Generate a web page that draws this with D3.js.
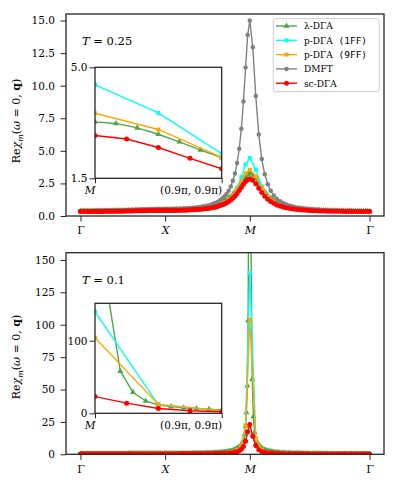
<!DOCTYPE html>
<html><head><meta charset="utf-8">
<script src="https://cdn.jsdelivr.net/npm/d3@7"></script>
<style>
body{margin:0;background:#fff}
svg{display:block}
text{fill:#000;font-family:"DejaVu Serif",serif}
</style>
</head><body>
<svg id="c" width="398" height="492"></svg>
<script>
// ---------- k-path ----------
const pathLabels = ["Γ", "X", "M", "Γ"];
const pathItalic = [false, true, true, false];

// ---------- T = 0.25 (values along Γ→X, X→M, M→Γ) ----------
const lam025_GX = [0.37,0.37,0.37,0.37,0.37,0.37,0.37,0.37,0.37,0.37,0.37,0.37,0.38,0.38,0.38,0.38,0.38,0.38,0.38,0.39,0.39,0.39,0.39,0.39,0.40,0.40,0.40,0.40,0.40,0.41,0.41,0.41,0.41,0.42,0.42,0.42,0.42,0.43,0.43,0.43,0.43,0.44,0.44,0.44,0.45,0.45,0.45,0.45,0.46,0.46,0.46,0.46,0.47,0.47,0.47,0.47,0.47,0.48,0.48,0.48,0.48];
const lam025_XM = [0.48,0.48,0.48,0.48,0.48,0.48,0.49,0.49,0.49,0.49,0.50,0.50,0.50,0.51,0.51,0.52,0.52,0.53,0.54,0.54,0.55,0.56,0.57,0.58,0.59,0.60,0.61,0.63,0.64,0.66,0.68,0.70,0.72,0.75,0.77,0.80,0.83,0.87,0.91,0.95,1.00,1.06,1.12,1.18,1.26,1.34,1.44,1.54,1.65,1.78,1.92,2.07,2.24,2.41,2.59,2.76,2.93,3.07,3.18,3.26,3.28];
const lam025_MG = [3.28,3.23,3.09,2.89,2.65,2.39,2.15,1.93,1.73,1.56,1.40,1.28,1.16,1.07,0.99,0.92,0.85,0.80,0.76,0.71,0.68,0.65,0.62,0.60,0.57,0.55,0.54,0.52,0.51,0.49,0.48,0.47,0.46,0.45,0.44,0.44,0.43,0.42,0.42,0.41,0.41,0.40,0.40,0.40,0.39,0.39,0.39,0.38,0.38,0.38,0.38,0.38,0.37,0.37,0.37,0.37,0.37,0.37,0.37,0.37,0.37];

const p1ff025_GX = [0.34,0.34,0.34,0.35,0.35,0.35,0.35,0.36,0.36,0.36,0.37,0.37,0.38,0.38,0.39,0.40,0.40,0.41,0.42,0.42,0.43];
const p1ff025_XM = [0.43,0.43,0.44,0.44,0.45,0.46,0.48,0.50,0.52,0.56,0.60,0.66,0.74,0.85,1.01,1.25,1.61,2.17,2.99,3.95,4.45];
const p1ff025_MG = [4.45,3.56,2.28,1.49,1.06,0.82,0.67,0.57,0.51,0.47,0.43,0.41,0.39,0.38,0.37,0.36,0.35,0.35,0.34,0.34,0.34];

const p9ff025_GX = [0.36,0.36,0.36,0.36,0.37,0.37,0.37,0.38,0.38,0.39,0.39,0.40,0.41,0.42,0.42,0.43,0.44,0.44,0.45,0.45,0.46];
const p9ff025_XM = [0.46,0.46,0.46,0.47,0.48,0.49,0.51,0.53,0.56,0.59,0.64,0.70,0.79,0.90,1.06,1.29,1.61,2.07,2.67,3.27,3.55];
const p9ff025_MG = [3.55,3.04,2.16,1.51,1.11,0.87,0.71,0.61,0.54,0.49,0.46,0.43,0.41,0.40,0.38,0.38,0.37,0.36,0.36,0.36,0.36];

const dmft025_GX = [0.39,0.39,0.39,0.39,0.39,0.39,0.39,0.40,0.40,0.40,0.40,0.40,0.41,0.41,0.41,0.41,0.42,0.42,0.43,0.43,0.43,0.44,0.44,0.45,0.46,0.46,0.47,0.47,0.48,0.49,0.49,0.50,0.50,0.51,0.51,0.52,0.52,0.52,0.52,0.53,0.53];
const dmft025_XM = [0.53,0.53,0.53,0.53,0.53,0.54,0.54,0.55,0.55,0.56,0.57,0.58,0.59,0.61,0.63,0.64,0.67,0.69,0.72,0.75,0.79,0.83,0.89,0.95,1.02,1.10,1.21,1.34,1.49,1.69,1.94,2.27,2.70,3.27,4.06,5.16,6.69,8.79,11.39,13.89,15.0];
const dmft025_MG = [15.0,12.94,9.20,6.26,4.37,3.20,2.44,1.93,1.58,1.33,1.15,1.01,0.90,0.81,0.75,0.69,0.64,0.61,0.57,0.55,0.52,0.51,0.49,0.47,0.46,0.45,0.44,0.43,0.42,0.42,0.41,0.41,0.40,0.40,0.40,0.39,0.39,0.39,0.39,0.39,0.39];

const sc025_GX = [0.34,0.34,0.34,0.34,0.34,0.34,0.34,0.35,0.35,0.35,0.35,0.35,0.36,0.36,0.36,0.36,0.36,0.37,0.37,0.37,0.37,0.38,0.38,0.38,0.39,0.39,0.40,0.40,0.40,0.41,0.41,0.41,0.42,0.42,0.42,0.42,0.43,0.43,0.43,0.43,0.43];
const sc025_XM = [0.43,0.43,0.43,0.43,0.43,0.43,0.44,0.44,0.44,0.45,0.45,0.46,0.47,0.48,0.49,0.50,0.51,0.52,0.54,0.56,0.58,0.60,0.63,0.66,0.70,0.74,0.80,0.86,0.93,1.01,1.11,1.23,1.37,1.54,1.73,1.95,2.19,2.43,2.64,2.79,2.85];
const sc025_MG = [2.85,2.74,2.47,2.13,1.80,1.52,1.29,1.11,0.97,0.85,0.77,0.70,0.64,0.59,0.56,0.52,0.50,0.47,0.46,0.44,0.43,0.41,0.40,0.39,0.39,0.38,0.37,0.37,0.36,0.36,0.36,0.35,0.35,0.35,0.35,0.34,0.34,0.34,0.34,0.34,0.34];

// ---------- T = 0.1 ----------
const lam01_GX = [0.24,0.24,0.24,0.24,0.24,0.24,0.24,0.24,0.24,0.24,0.24,0.24,0.24,0.24,0.24,0.24,0.24,0.24,0.24,0.24,0.25,0.25,0.25,0.25,0.25,0.25,0.25,0.25,0.25,0.25,0.26,0.26,0.26,0.26,0.27,0.27,0.27,0.27,0.28,0.28,0.28,0.28,0.29,0.29,0.29,0.29,0.30,0.30,0.30,0.30,0.30,0.31,0.31,0.31,0.32,0.32,0.32,0.33,0.33,0.33,0.33,0.34,0.34,0.34,0.35,0.35,0.35,0.35,0.36,0.36,0.36,0.36,0.37,0.37,0.37,0.37,0.38,0.38,0.38,0.38,0.39,0.39,0.39,0.39,0.40,0.40,0.40,0.40,0.40,0.41,0.41,0.41,0.41,0.41,0.41,0.42,0.42,0.42,0.42,0.42,0.42];
const lam01_XM = [0.42,0.42,0.42,0.42,0.42,0.42,0.42,0.42,0.43,0.43,0.43,0.43,0.43,0.43,0.43,0.44,0.44,0.44,0.44,0.45,0.45,0.45,0.46,0.46,0.47,0.47,0.48,0.48,0.49,0.50,0.50,0.51,0.52,0.53,0.53,0.54,0.55,0.56,0.57,0.58,0.59,0.60,0.61,0.63,0.64,0.65,0.67,0.68,0.70,0.71,0.73,0.75,0.77,0.80,0.82,0.84,0.87,0.90,0.93,0.96,0.99,1.03,1.07,1.11,1.15,1.20,1.25,1.31,1.37,1.43,1.50,1.58,1.67,1.77,1.87,1.98,2.12,2.27,2.43,2.61,2.81,3.04,3.31,3.62,3.98,4.41,4.88,5.31,5.88,6.57,7.34,8.41,9.83,11.7,15.4,21.5,32.2,53,103,250,500];
const lam01_MG = [500,166,58,29,17,11.4,9.2,7.7,6.7,5.7,4.7,4.1,3.6,3.16,2.81,2.52,2.28,2.07,1.89,1.73,1.60,1.49,1.39,1.30,1.21,1.13,1.07,1.01,0.96,0.91,0.86,0.82,0.78,0.75,0.71,0.68,0.65,0.63,0.60,0.58,0.56,0.54,0.53,0.51,0.50,0.48,0.47,0.46,0.45,0.43,0.42,0.41,0.40,0.39,0.38,0.38,0.37,0.36,0.35,0.35,0.34,0.33,0.33,0.32,0.32,0.31,0.31,0.30,0.30,0.29,0.29,0.29,0.28,0.28,0.28,0.27,0.27,0.27,0.27,0.26,0.26,0.26,0.26,0.25,0.25,0.25,0.25,0.25,0.25,0.24,0.24,0.24,0.24,0.24,0.24,0.24,0.24,0.24,0.24,0.24,0.24];

const p1ff01_GX = [0.28,0.28,0.28,0.28,0.29,0.29,0.29,0.30,0.30,0.31,0.31,0.31,0.32,0.33,0.33,0.34,0.34,0.35,0.35,0.36,0.36];
const p1ff01_XM = [0.36,0.36,0.37,0.37,0.38,0.39,0.40,0.42,0.45,0.48,0.52,0.58,0.67,0.79,0.98,1.29,1.87,3.10,6.50,22.3,140];
const p1ff01_MG = [140,12.0,3.5,1.66,1.04,0.75,0.59,0.50,0.43,0.39,0.36,0.34,0.32,0.31,0.30,0.29,0.29,0.29,0.28,0.28,0.28];

const p9ff01_GX = [0.29,0.29,0.29,0.29,0.29,0.29,0.30,0.30,0.31,0.31,0.31,0.32,0.32,0.33,0.33,0.34,0.35,0.35,0.36,0.36,0.37];
const p9ff01_XM = [0.37,0.37,0.37,0.38,0.39,0.40,0.41,0.43,0.46,0.49,0.54,0.60,0.69,0.82,1.02,1.35,1.96,3.24,6.73,22.0,104];
const p9ff01_MG = [104,12.3,3.6,1.74,1.09,0.78,0.61,0.51,0.45,0.40,0.37,0.35,0.33,0.32,0.31,0.30,0.29,0.29,0.29,0.29,0.29];

const sc01_GX = [0.25,0.25,0.25,0.25,0.25,0.25,0.25,0.25,0.25,0.25,0.25,0.26,0.26,0.26,0.26,0.26,0.26,0.26,0.27,0.27,0.27,0.27,0.27,0.28,0.28,0.28,0.28,0.29,0.29,0.29,0.29,0.30,0.30,0.30,0.30,0.30,0.31,0.31,0.31,0.31,0.31];
const sc01_XM = [0.31,0.31,0.31,0.31,0.31,0.31,0.31,0.32,0.32,0.32,0.33,0.33,0.33,0.34,0.35,0.35,0.36,0.37,0.38,0.40,0.41,0.43,0.45,0.48,0.51,0.54,0.59,0.64,0.71,0.80,0.91,1.06,1.27,1.57,2.01,2.71,3.88,5.99,10.08,17.37,23.0];
const sc01_MG = [23.0,13.97,6.7,3.52,2.20,1.53,1.14,0.91,0.75,0.64,0.56,0.50,0.46,0.42,0.39,0.37,0.35,0.34,0.33,0.32,0.31,0.30,0.29,0.29,0.28,0.28,0.28,0.27,0.27,0.27,0.27,0.26,0.26,0.26,0.26,0.26,0.25,0.25,0.25,0.25,0.25];

// ---------- tick labels ----------
const yTicksTop = [0, 2.5, 5, 7.5, 10, 12.5, 15];
const yTicksBottom = [0, 25, 50, 75, 100, 125, 150];
const insetTicksTop = [1.5, 5.0];
const insetTicksBottom = [0, 100];
const insetXLabels = ["M", "(0.9π, 0.9π)"];
const legendNames = ["λ-DΓA", "p-DΓA (1FF)", "p-DΓA (9FF)", "DMFT", "sc-DΓA"];

// ---------- styles ----------
const styles = {
  lam:  {color: "#008000", opacity: 0.7, marker: d3.symbolTriangle, size: 16},
  p1ff: {color: "#00ffff", opacity: 1, marker: d3.symbolSquare, size: 16},
  p9ff: {color: "#ffa500", opacity: 1, marker: d3.symbolSquare, size: 16},
  dmft: {color: "#808080", opacity: 1, marker: d3.symbolCircle, size: 16},
  sc:   {color: "#ff0000", opacity: 1, marker: d3.symbolCircle, size: 20}
};

const L = 2 + Math.SQRT2;
function seriesPoints(gx, xm, mg) {
  const segs = [gx, xm, mg], off = [0, 1, 2], len = [1, 1, Math.SQRT2];
  const pts = [];
  segs.forEach((arr, k) => arr.forEach((v, j) => {
    if (k > 0 && j === 0) return;
    pts.push({s: off[k] + len[k] * j / (arr.length - 1), v});
  }));
  return pts;
}

const svg = d3.select("#c");
const FRAME = "#262626";
let clipId = 0;
function clip(x, y, w, h) {
  const id = "clip" + (clipId++);
  svg.append("clipPath").attr("id", id).append("rect").attr("x", x).attr("y", y).attr("width", w).attr("height", h);
  return "url(#" + id + ")";
}

function drawSeries(g, pts, st, sx, sy) {
  const grp = g.append("g").attr("opacity", st.opacity);
  grp.append("path").datum(pts)
    .attr("d", d3.line().x(d => sx(d.s)).y(d => sy(d.v)))
    .attr("fill", "none").attr("stroke", st.color).attr("stroke-width", 1.4);
  grp.selectAll("path.m").data(pts).enter().append("path").attr("class", "m")
    .attr("d", d3.symbol().type(st.marker).size(st.size))
    .attr("transform", d => `translate(${sx(d.s)},${sy(d.v)})`)
    .attr("fill", st.color);
}

function styleText(sel, size) {
  sel.attr("font-family", null).style("font-family", '"DejaVu Serif",serif').style("font-size", size + "px").attr("fill", "#000");
}

function panel(cfg) {
  const {x0, x1, y0, y1, ymax, yticks, fmt, series, tLabel, tY, ins, labelY} = cfg;
  const sx = d3.scaleLinear().domain([-0.05 * L, 1.05 * L]).range([x0, x1]);
  const sy = d3.scaleLinear().domain([0, ymax]).range([y1, y0]);
  const g = svg.append("g");
  const data = g.append("g").attr("clip-path", clip(x0, y0, x1 - x0, y1 - y0));
  series.forEach(s => drawSeries(data, seriesPoints(...s.segs), styles[s.key], sx, sy));

  const ya = g.append("g").attr("transform", `translate(${x0},0)`)
    .call(d3.axisLeft(sy).tickValues(yticks).tickFormat(fmt).tickSize(5.5).tickPadding(5.5).tickSizeOuter(0));
  ya.attr("font-family", null);
  ya.select(".domain").remove();
  ya.selectAll("line").attr("stroke", FRAME).attr("stroke-width", 1);
  styleText(ya.selectAll("text"), 10.5);
  const xa = g.append("g").attr("transform", `translate(0,${y1})`)
    .call(d3.axisBottom(sx).tickValues([0, 1, 2, L]).tickFormat((d, i) => pathLabels[i]).tickSize(5.5).tickPadding(5).tickSizeOuter(0));
  xa.attr("font-family", null);
  xa.select(".domain").remove();
  xa.selectAll("line").attr("stroke", FRAME).attr("stroke-width", 1);
  styleText(xa.selectAll("text"), 11);
  xa.selectAll("text").style("font-style", (d, i) => pathItalic[i] ? "italic" : "normal");
  g.append("rect").attr("x", x0).attr("y", y0).attr("width", x1 - x0).attr("height", y1 - y0)
    .attr("fill", "none").attr("stroke", FRAME).attr("stroke-width", 1.3);

  // y label
  const yl = g.append("text").attr("transform", `translate(20,${labelY}) rotate(-90)`)
    .attr("text-anchor", "middle").style("font-size", "11px");
  yl.append("tspan").text("Re");
  yl.append("tspan").style("font-style", "italic").text("χ");
  yl.append("tspan").style("font-style", "italic").style("font-size", "8px").attr("dy", 2.5).text("m");
  yl.append("tspan").attr("dy", -2.5).text("(");
  yl.append("tspan").style("font-style", "italic").text("ω");
  yl.append("tspan").text(" = 0, ");
  yl.append("tspan").style("font-weight", "bold").text("q");
  yl.append("tspan").text(")");

  const tl = g.append("text").attr("x", x0 + 16).attr("y", tY).style("font-size", "11.5px");
  tl.append("tspan").style("font-style", "italic").text("T");
  tl.append("tspan").text(" = " + tLabel);

  // inset (DMFT not shown there)
  const ix = d3.scaleLinear().domain([2, 2 + 0.1 * Math.SQRT2]).range([ins.x0, ins.x1]);
  const iy = d3.scaleLinear().domain(ins.ydom).range([ins.y1, ins.y0]);
  const ig = svg.append("g");
  ig.append("rect").attr("x", ins.x0).attr("y", ins.y0).attr("width", ins.x1 - ins.x0).attr("height", ins.y1 - ins.y0).attr("fill", "#fff");
  const idata = ig.append("g").attr("clip-path", clip(ins.x0, ins.y0, ins.x1 - ins.x0, ins.y1 - ins.y0));
  series.filter(s => s.key !== "dmft").forEach(s => drawSeries(idata, seriesPoints(...s.segs), styles[s.key], ix, iy));
  const iya = ig.append("g").attr("transform", `translate(${ins.x0},0)`)
    .call(d3.axisLeft(iy).tickValues(ins.ticks).tickFormat(ins.fmt).tickSize(5.5).tickPadding(2).tickSizeOuter(0));
  iya.attr("font-family", null);
  iya.select(".domain").remove();
  iya.selectAll("line").attr("stroke", FRAME);
  styleText(iya.selectAll("text"), 10.5);
  const ixa = ig.append("g").attr("transform", `translate(0,${ins.y1})`)
    .call(d3.axisBottom(ix).tickValues([2, 2 + 0.1 * Math.SQRT2]).tickFormat((d, i) => insetXLabels[i]).tickSize(5).tickPadding(3).tickSizeOuter(0));
  ixa.attr("font-family", null);
  ixa.select(".domain").remove();
  ixa.selectAll("line").attr("stroke", FRAME);
  styleText(ixa.selectAll("text"), 10.5);
  ixa.selectAll("text").attr("text-anchor", "end").style("font-style", (d, i) => i === 0 ? "italic" : "normal");
  ig.append("rect").attr("x", ins.x0).attr("y", ins.y0).attr("width", ins.x1 - ins.x0).attr("height", ins.y1 - ins.y0)
    .attr("fill", "none").attr("stroke", FRAME).attr("stroke-width", 1.3);
}

const top025 = [
  {key: "lam", segs: [lam025_GX, lam025_XM, lam025_MG]},
  {key: "p1ff", segs: [p1ff025_GX, p1ff025_XM, p1ff025_MG]},
  {key: "p9ff", segs: [p9ff025_GX, p9ff025_XM, p9ff025_MG]},
  {key: "dmft", segs: [dmft025_GX, dmft025_XM, dmft025_MG]},
  {key: "sc", segs: [sc025_GX, sc025_XM, sc025_MG]}
];
const bot01 = [
  {key: "lam", segs: [lam01_GX, lam01_XM, lam01_MG]},
  {key: "p1ff", segs: [p1ff01_GX, p1ff01_XM, p1ff01_MG]},
  {key: "p9ff", segs: [p9ff01_GX, p9ff01_XM, p9ff01_MG]},
  {key: "sc", segs: [sc01_GX, sc01_XM, sc01_MG]}
];

panel({x0: 66, x1: 384, y0: 14, y1: 216, ymax: 15.5, yticks: yTicksTop, fmt: d3.format(".1f"),
  series: top025, tLabel: "0.25", tY: 45, labelY: 121,
  ins: {x0: 95, x1: 221.7, y0: 67.3, y1: 178.3, ydom: [1.5, 5.0], ticks: insetTicksTop, fmt: d3.format(".1f")}});
panel({x0: 66, x1: 384, y0: 252.7, y1: 454.3, ymax: 155.6, yticks: yTicksBottom, fmt: d3.format("d"),
  series: bot01, tLabel: "0.1", tY: 284, labelY: 357,
  ins: {x0: 95, x1: 221.7, y0: 303.3, y1: 413.3, ydom: [0, 151.5], ticks: insetTicksBottom, fmt: d3.format("d")}});

// legend
const lg = svg.append("g");
lg.append("rect").attr("x", 273.3).attr("y", 18.7).attr("width", 106).attr("height", 73).attr("rx", 2.5)
  .attr("fill", "#fff").attr("fill-opacity", 0.8).attr("stroke", "#cccccc").attr("stroke-width", 1);
["lam", "p1ff", "p9ff", "dmft", "sc"].forEach((k, i) => {
  const st = styles[k], y = 26 + i * 14.3;
  const e = lg.append("g").attr("opacity", st.opacity);
  e.append("line").attr("x1", 276).attr("x2", 297).attr("y1", y).attr("y2", y).attr("stroke", st.color).attr("stroke-width", 1.4);
  e.append("path").attr("d", d3.symbol().type(st.marker).size(st.size)).attr("transform", `translate(286.5,${y})`).attr("fill", st.color);
  const t = lg.append("text").attr("x", 304).attr("y", y + 3.3).style("font-size", "9px");
  const nm = legendNames[i], m = nm.match(/^(.*?)(\s\(.*\))?$/);
  t.append("tspan").text(m[1]);
  if (m[2]) t.append("tspan").style("font-family", '"DejaVu Sans Mono",monospace').style("font-size", "9.5px").text(m[2]);
});
</script>
</body></html>
